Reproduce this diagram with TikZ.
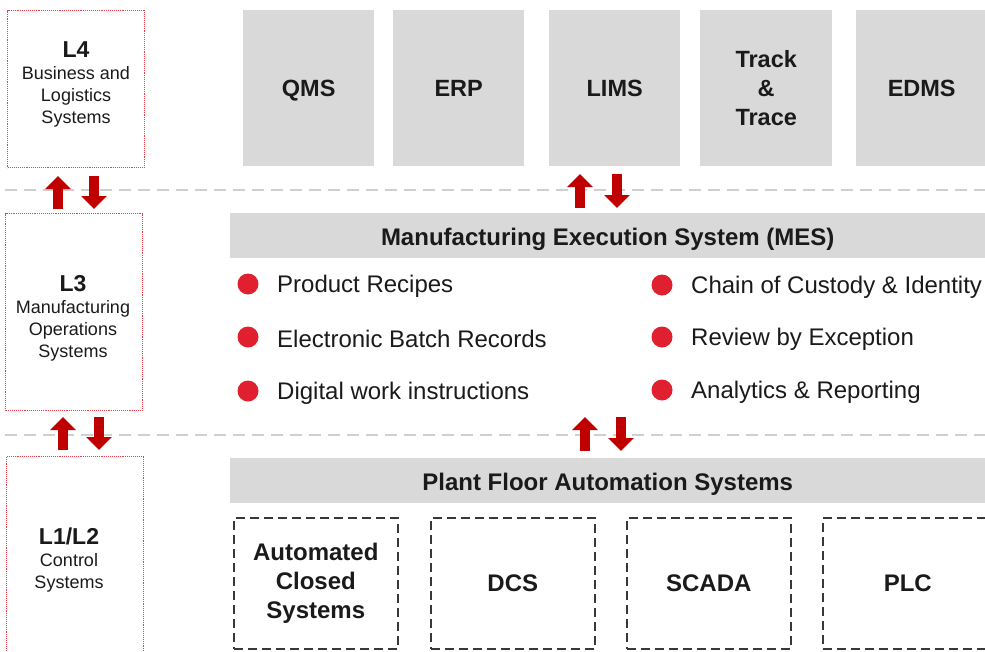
\documentclass[tikz,border=0pt]{standalone}
\usepackage{fontspec}
\setmainfont{Liberation Sans}
\usetikzlibrary{arrows.meta}
\definecolor{boxgray}{HTML}{D9D9D9}
\definecolor{lvlred}{HTML}{E8404A}
\definecolor{arrred}{HTML}{C00000}
\definecolor{dotred}{HTML}{E0202E}
\definecolor{sepgray}{HTML}{CFCFCF}
\definecolor{txt}{HTML}{1A1A1A}
\newcommand{\lowr}[2]{\raisebox{-#1}[0pt][0pt]{#2}}
\begin{document}
\begin{tikzpicture}[x=1pt,y=-1pt,
  lvlbox/.style={draw=lvlred,densely dotted,line width=1.1pt,rectangle,anchor=north west,inner sep=0pt},
  sysbox/.style={fill=boxgray,draw=none,anchor=north west,inner sep=0pt,align=center,font=\bfseries\fontsize{23.5}{29}\selectfont,text=txt},
  bar/.style={fill=boxgray,draw=none,anchor=north west,inner sep=0pt,font=\bfseries\fontsize{24}{28}\selectfont,text=txt},
  dbox/.style={draw=black!78,dashed,dash pattern=on 9pt off 5pt,line width=1.6pt,anchor=north west,inner sep=0pt,align=center,font=\bfseries\fontsize{24}{29}\selectfont,text=txt},
  sep/.style={draw=sepgray,line width=2.6pt,dash pattern=on 12pt off 7pt},
  blk/.style={draw=arrred,line width=10pt,-{Triangle[width=25pt,length=13pt]},color=arrred},
  dot/.style={circle,fill=dotred,inner sep=0pt,minimum size=21pt},
  item/.style={anchor=west,inner sep=0pt,font=\fontsize{24}{28}\selectfont,text=txt},
  lvltext/.style={align=center,text=txt,font=\fontsize{18}{22}\selectfont}
]
\useasboundingbox (0,0) rectangle (985,651);
% separators
\draw[sep] (5,190) -- (985,190);
\draw[sep] (5,435) -- (985,435);
% level boxes
\node[lvlbox,minimum width=137pt,minimum height=157pt] (l4) at (7,10) {};
\node[lvlbox,minimum width=137pt,minimum height=197pt] (l3) at (5,213) {};
\node[lvlbox,minimum width=137pt,minimum height=200pt] (l12) at (6,456) {};
\node[lvltext] (l4t) at (76,84) {{\bfseries\fontsize{23}{25}\selectfont L4}\\Business and\\Logistics\\Systems};
\node[lvltext] (l3t) at (73,318) {{\bfseries\fontsize{23}{25}\selectfont L3}\\Manufacturing\\Operations\\Systems};
\node[lvltext] (l12t) at (69,560) {{\bfseries\fontsize{23}{25}\selectfont L1/L2}\\Control\\Systems};
% top systems
\node[sysbox,minimum width=131pt,minimum height=156pt] (qms) at (243,10) {\lowr{8.5pt}{QMS}};
\node[sysbox,minimum width=131pt,minimum height=156pt] (erp) at (393,10) {\lowr{8.5pt}{ERP}};
\node[sysbox,minimum width=131pt,minimum height=156pt] (lims) at (549,10) {\lowr{8.5pt}{LIMS}};
\node[sysbox,minimum width=132pt,minimum height=156pt] (tt) at (700,10) {Track\\\&\\Trace};
\node[sysbox,minimum width=131pt,minimum height=156pt] (edms) at (856,10) {\lowr{8.5pt}{EDMS}};
% bars
\node[bar,minimum width=755pt,minimum height=45pt] (mes) at (230,213) {\lowr{9.5pt}{Manufacturing Execution System (MES)}};
\node[bar,minimum width=755pt,minimum height=45pt] (pfa) at (230,458) {\lowr{9.5pt}{Plant Floor Automation Systems}};
% bullets
\foreach \y/\t [count=\i] in {284/Product Recipes,337/Electronic Batch Records,391/Digital work instructions}{
  \node[dot] (ld\i) at (248,\y) {};
  \node[item] (lt\i) at (277,\y+2) {\t};
}
\foreach \y/\t [count=\i] in {285/Chain of Custody \& Identity,337/Review by Exception,390/Analytics \& Reporting}{
  \node[dot] (rd\i) at (662,\y) {};
  \node[item] (rt\i) at (691,\y+2) {\t};
}
% dashed boxes
\node[dbox,minimum width=164pt,minimum height=131pt] (acs) at (233,517) {Automated\\Closed\\Systems};
\node[dbox,minimum width=164pt,minimum height=131pt] (dcs) at (430,517) {DCS};
\node[dbox,minimum width=164pt,minimum height=131pt] (scada) at (626,517) {SCADA};
\node[dbox,minimum width=170pt,minimum height=131pt] (plc) at (822,517) {PLC};
% arrows
\coordinate (a1s) at (58,209); \coordinate (a1e) at (58,176);
\coordinate (a2s) at (94,176); \coordinate (a2e) at (94,209);
\coordinate (a3s) at (63,450); \coordinate (a3e) at (63,417);
\coordinate (a4s) at (99,417); \coordinate (a4e) at (99,450);
\coordinate (a5s) at (580,208); \coordinate (a5e) at (580,174);
\coordinate (a6s) at (617,174); \coordinate (a6e) at (617,208);
\coordinate (a7s) at (585,451); \coordinate (a7e) at (585,417);
\coordinate (a8s) at (621,417); \coordinate (a8e) at (621,451);
\foreach \a in {1,...,8}{\draw[blk] (a\a s) -- (a\a e);}
\end{tikzpicture}
\end{document}
